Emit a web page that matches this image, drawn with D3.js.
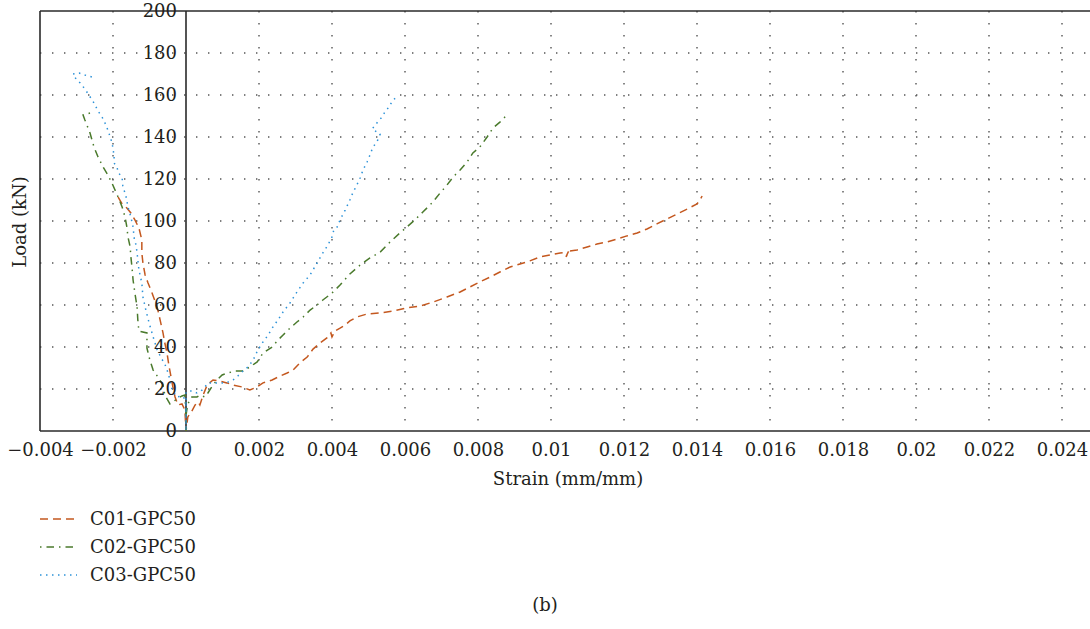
<!DOCTYPE html>
<html>
<head>
<meta charset="utf-8">
<script src="https://cdn.jsdelivr.net/npm/d3@7/dist/d3.min.js"></script>
<style>
  html, body { margin: 0; padding: 0; background: #fff; }
  svg { display: block; }
</style>
</head>
<body>
<svg id="chart" width="1090" height="629"></svg>
<script>
// ---- Data (strain in mm/mm, load in kN) ----
const seriesNames = ["C01-GPC50", "C02-GPC50", "C03-GPC50"];

// Lateral (negative) branches, listed from peak down to origin
const c01Neg = [[-0.00186,111.4],[-0.00175,108.1],[-0.00162,106.2],[-0.00151,103.8],[-0.00140,100.5],[-0.00129,96.7],[-0.00121,91.0],[-0.00121,84.8],[-0.00118,80.0],[-0.00112,74.3],[-0.00104,70.5],[-0.00093,65.7],[-0.00079,59.0],[-0.00071,52.9],[-0.00063,46.7],[-0.00058,41.9],[-0.00052,37.1],[-0.00047,31.4],[-0.00041,25.7],[-0.00036,21.0],[-0.00030,16.2],[-0.00022,12.4],[-0.00011,12.9],[-0.00003,10.0],[0,0]];
const c02Neg = [[-0.00263,151.4],[-0.00282,150.5],[-0.00277,148.1],[-0.00263,141.9],[-0.00252,135.2],[-0.00241,130.5],[-0.00227,125.7],[-0.00214,121.9],[-0.00203,118.1],[-0.00186,111.4],[-0.00175,106.7],[-0.00167,101.9],[-0.00162,97.1],[-0.00159,92.4],[-0.00153,87.6],[-0.00151,82.9],[-0.00148,78.1],[-0.00145,71.9],[-0.00140,65.7],[-0.00134,59.0],[-0.00132,52.9],[-0.00129,47.6],[-0.00107,46.7],[-0.00107,39.5],[-0.00099,33.8],[-0.00090,29.0],[-0.00077,25.7],[-0.00063,21.9],[-0.00058,17.1],[-0.00044,12.9],[-0.00025,15.2],[-0.00011,16.7],[-0.00003,17.1],[0,7.6],[0,0]];
const c03Neg = [[-0.00258,168.6],[-0.00277,169.5],[-0.00293,170.5],[-0.00310,170.0],[-0.00301,167.6],[-0.00290,165.7],[-0.00279,163.3],[-0.00268,160.5],[-0.00252,156.2],[-0.00241,152.4],[-0.00230,149.5],[-0.00222,146.7],[-0.00214,143.3],[-0.00205,138.6],[-0.00200,134.8],[-0.00197,130.5],[-0.00197,127.6],[-0.00189,125.7],[-0.00186,123.3],[-0.00175,120.5],[-0.00173,116.7],[-0.00164,111.4],[-0.00159,106.7],[-0.00151,101.9],[-0.00145,97.1],[-0.00142,91.9],[-0.00137,88.6],[-0.00134,84.8],[-0.00129,76.7],[-0.00121,70.5],[-0.00118,63.8],[-0.00110,57.6],[-0.00101,51.4],[-0.00090,44.8],[-0.00079,38.6],[-0.00068,34.8],[-0.00058,31.9],[-0.00049,27.6],[-0.00044,24.3],[-0.00038,19.5],[-0.00025,16.2],[-0.00011,16.7],[0,14.8],[0,0]];

// Axial (positive) branches, listed from origin up to peak
const c01Pos = [[0,0],[0.00005,6.7],[0.00016,9.5],[0.00025,12.4],[0.00033,13.8],[0.00038,12.4],[0.00047,17.1],[0.00058,21.9],[0.00074,24.3],[0.00093,23.8],[0.00112,22.9],[0.00129,21.9],[0.00153,21.0],[0.00175,19.5],[0.00195,21.0],[0.00211,22.9],[0.00236,24.3],[0.00252,25.7],[0.00277,27.6],[0.00293,29.0],[0.00312,32.4],[0.00332,35.2],[0.00348,39.0],[0.00367,41.9],[0.00386,44.3],[0.00397,46.7],[0.00400,44.8],[0.00408,47.6],[0.00422,49.0],[0.00436,50.5],[0.00449,52.4],[0.00468,54.3],[0.00496,55.7],[0.00532,56.2],[0.00567,57.1],[0.00605,58.6],[0.00641,59.5],[0.00677,61.4],[0.00715,63.8],[0.00751,66.2],[0.00778,68.6],[0.00805,71.0],[0.00833,73.3],[0.00860,75.7],[0.00888,78.1],[0.00915,79.5],[0.00942,81.0],[0.00970,82.9],[0.00997,83.8],[0.01025,84.8],[0.01047,85.2],[0.01041,82.9],[0.01052,85.7],[0.01071,86.2],[0.01099,87.6],[0.01126,89.0],[0.01153,90.0],[0.01181,91.4],[0.01208,92.9],[0.01236,94.3],[0.01263,96.2],[0.01290,98.6],[0.01318,101.0],[0.01345,103.3],[0.01373,105.7],[0.01400,108.1],[0.01408,110.0],[0.01414,111.9]];
const c02Pos = [[0,0],[0,7.6],[0.00005,12.9],[0.00016,16.2],[0.00030,16.2],[0.00038,17.1],[0.00052,16.2],[0.00060,18.1],[0.00074,21.9],[0.00085,24.3],[0.00099,26.7],[0.00115,27.6],[0.00134,28.6],[0.00156,28.6],[0.00175,30.5],[0.00195,32.9],[0.00211,37.1],[0.00236,40.0],[0.00252,43.3],[0.00266,45.7],[0.00285,49.0],[0.00304,51.9],[0.00321,54.3],[0.00340,57.6],[0.00359,60.0],[0.00375,62.4],[0.00400,65.7],[0.00422,69.5],[0.00449,74.8],[0.00477,79.0],[0.00504,82.4],[0.00532,85.2],[0.00559,90.0],[0.00586,94.3],[0.00605,97.1],[0.00627,100.5],[0.00649,104.3],[0.00674,108.6],[0.00696,113.3],[0.00715,117.1],[0.00732,121.0],[0.00751,124.3],[0.00770,128.1],[0.00786,132.4],[0.00805,135.2],[0.00825,140.0],[0.00841,144.3],[0.00860,147.1],[0.00882,151.0]];
const c03Pos = [[0,0],[0,11.4],[0,18.6],[0.00008,19.0],[0.00019,19.0],[0.00030,18.1],[0.00044,19.5],[0.00052,21.0],[0.00060,22.9],[0.00079,22.9],[0.00099,22.9],[0.00115,23.3],[0.00129,24.3],[0.00142,26.2],[0.00156,28.6],[0.00170,30.5],[0.00184,33.8],[0.00197,38.6],[0.00211,42.4],[0.00225,45.7],[0.00238,49.5],[0.00252,52.9],[0.00266,56.7],[0.00285,61.0],[0.00304,66.2],[0.00321,70.5],[0.00340,74.3],[0.00359,80.0],[0.00375,84.8],[0.00389,88.6],[0.00400,92.4],[0.00405,95.7],[0.00414,97.1],[0.00422,100.5],[0.00436,105.2],[0.00449,110.0],[0.00458,113.8],[0.00468,117.1],[0.00477,120.5],[0.00485,124.3],[0.00496,128.1],[0.00504,131.4],[0.00512,135.2],[0.00523,137.6],[0.00532,141.4],[0.00510,143.8],[0.00523,146.7],[0.00537,149.5],[0.00545,151.9],[0.00556,154.3],[0.00567,157.6],[0.00581,159.5]];

const xTickValues = [-0.004,-0.002,0,0.002,0.004,0.006,0.008,0.010,0.012,0.014,0.016,0.018,0.020,0.022,0.024];
const xTickLabels = ["\u22120.004","\u22120.002","0","0.002","0.004","0.006","0.008","0.01","0.012","0.014","0.016","0.018","0.02","0.022","0.024"];
const yTickValues = [0,20,40,60,80,100,120,140,160,180,200];
const yTickLabels = ["0","20","40","60","80","100","120","140","160","180","200"];

const xTitle = "Strain (mm/mm)";
const yTitle = "Load (kN)";
const caption = "(b)";

// ---- Layout / style ----
const FONT = "DejaVu Serif";
const FSIZE = 18;
const colors = ["#c4581f", "#4a7a2c", "#2d92d8"];
const dashes = ["8,5", "1.5,5,7.5,5", "1.5,4.5"];

const svg = d3.select("#chart");
const plotLeft = 40, plotRight = 1090, plotTop = 11, plotBottom = 431;

const x = d3.scaleLinear().domain([-0.004, 0.024]).range([40, 1062]);
const y = d3.scaleLinear().domain([0, 200]).range([431, 11]);

// Grid (dotted)
const grid = svg.append("g").attr("stroke", "#555").attr("stroke-width", 1.4)
  .attr("stroke-dasharray", "1.4,10.6").attr("fill", "none");
grid.selectAll("line.v").data(xTickValues.filter(v => v !== 0 && v !== -0.004)).enter()
  .append("line").attr("class", "v")
  .attr("x1", d => x(d)).attr("x2", d => x(d))
  .attr("y1", plotTop).attr("y2", plotBottom);
grid.selectAll("line.h").data(yTickValues.filter(v => v !== 0 && v !== 200)).enter()
  .append("line").attr("class", "h")
  .attr("x1", plotLeft).attr("x2", plotRight)
  .attr("y1", d => y(d)).attr("y2", d => y(d));

// Frame
const frame = svg.append("g").attr("stroke", "#2a2a2a").attr("stroke-width", 1.6).attr("fill", "none");
frame.append("line").attr("x1", plotLeft).attr("x2", plotRight).attr("y1", plotTop).attr("y2", plotTop);
frame.append("line").attr("x1", plotLeft).attr("x2", plotRight).attr("y1", plotBottom).attr("y2", plotBottom);
frame.append("line").attr("x1", plotLeft).attr("x2", plotLeft).attr("y1", plotTop).attr("y2", plotBottom);
frame.append("line").attr("x1", x(0)).attr("x2", x(0)).attr("y1", plotTop).attr("y2", plotBottom);

// Series
const seriesData = [c01Neg.concat(c01Pos), c02Neg.concat(c02Pos), c03Neg.concat(c03Pos)];
const line = d3.line().x(d => x(d[0])).y(d => y(d[1]));
svg.append("g").selectAll("path").data(seriesData).enter().append("path")
  .attr("d", line)
  .attr("fill", "none")
  .attr("stroke", (d, i) => colors[i])
  .attr("stroke-width", 1.5)
  .attr("stroke-dasharray", (d, i) => dashes[i]);

// Axes (labels only)
const xAxis = d3.axisBottom(x).tickValues(xTickValues)
  .tickFormat((d, i) => xTickLabels[i]).tickSize(0).tickPadding(12);
const gx = svg.append("g").attr("transform", `translate(0,${plotBottom})`).call(xAxis);
gx.attr("font-family", FONT).attr("font-size", FSIZE);
gx.select(".domain").remove();
gx.selectAll("text").attr("fill", "#231f20");

const yAxis = d3.axisLeft(y).tickValues(yTickValues)
  .tickFormat((d, i) => yTickLabels[i]).tickSize(0).tickPadding(9);
const gy = svg.append("g").attr("transform", `translate(${x(0)},0)`).call(yAxis);
gy.attr("font-family", FONT).attr("font-size", FSIZE);
gy.select(".domain").remove();
gy.selectAll("text").attr("fill", "#231f20");

// Titles
const txt = svg.append("g").attr("font-family", FONT).attr("font-size", FSIZE).attr("fill", "#231f20");
txt.append("text").attr("x", 568).attr("y", 485).attr("text-anchor", "middle").text(xTitle);
txt.append("text").attr("transform", "translate(26,222) rotate(-90)").attr("text-anchor", "middle").text(yTitle);
txt.append("text").attr("x", 545).attr("y", 611).attr("text-anchor", "middle").text(caption);

// Legend
const legend = svg.append("g").attr("font-family", FONT).attr("font-size", FSIZE).attr("fill", "#231f20");
const lg = legend.selectAll("g").data(seriesNames).enter().append("g")
  .attr("transform", (d, i) => `translate(0,${519 + i * 28})`);
lg.append("line").attr("x1", 40).attr("x2", 77).attr("y1", 0).attr("y2", 0)
  .attr("stroke", (d, i) => colors[i]).attr("stroke-width", 1.5)
  .attr("stroke-dasharray", (d, i) => dashes[i]);
lg.append("text").attr("x", 90).attr("y", 0).attr("dy", "0.35em").text(d => d);
</script>
</body>
</html>
